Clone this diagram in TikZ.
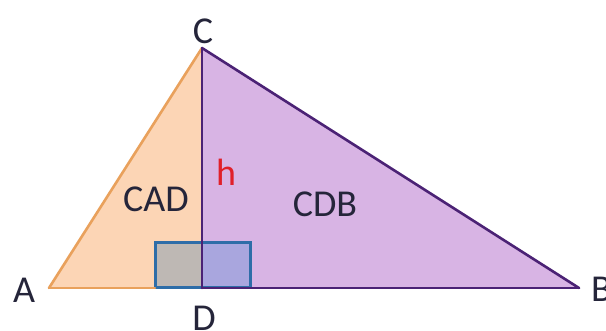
\documentclass[tikz,border=0pt]{standalone}
\usepackage{fontspec}
\setmainfont{Carlito}
\definecolor{orfill}{HTML}{FCD5B5}
\definecolor{orline}{HTML}{E9A15C}
\definecolor{pufill}{HTML}{D8B4E4}
\definecolor{puline}{HTML}{4B2275}
\definecolor{rectline}{HTML}{2E6DA8}
\definecolor{rectleft}{HTML}{BEB8B4}
\definecolor{rectright}{HTML}{A9A6DE}
\definecolor{hred}{HTML}{E0202A}
\definecolor{txt}{HTML}{25253A}
\tikzset{
  lbl/.style={font=\fontsize{38}{40}\selectfont, text=txt, inner sep=0pt},
  edgeor/.style={draw=orline, line width=2.6pt, line cap=round, line join=round},
  edgepu/.style={draw=puline, line width=2.6pt, line cap=round, line join=round},
  rightbox/.style={draw=rectline, line width=3pt},
}
\begin{document}
\begin{tikzpicture}[x=1pt,y=-1pt]
\useasboundingbox (0,0) rectangle (606,331);
\fill[white] (0,0) rectangle (606,331);
\coordinate (A) at (49,288);
\coordinate (D) at (202,288);
\coordinate (C) at (202,48);
\coordinate (B) at (579,288);
\coordinate (R1) at (155,243);
\coordinate (R2) at (250,288);
% fills
\fill[orfill] (A) -- (D) -- (C) -- cycle;
\fill[pufill] (D) -- (B) -- (C) -- cycle;
% right angle marker
\fill[rectleft] (R1) rectangle (D);
\fill[rectright] (202,243) rectangle (R2);
\draw[rightbox] (R1) rectangle (R2);
% edges
\draw[edgeor] (A) -- (C);
\draw[edgeor] (A) -- (155,288);
\draw[edgepu] (C) -- (D);
\draw[edgepu] (D) -- (B);
\draw[edgepu] (C) -- (B);
% labels
\node[lbl] (la) at (24,290) {A};
\node[lbl] (lc) at (203,31) {C};
\node[lbl] (ld) at (204,318) {D};
\node[lbl, anchor=west] (lb) at (591,289) {B};
\node[lbl] (lcad) at (156,199) {CAD};
\node[lbl] (lcdb) at (325,204) {CDB};
\node[lbl, text=hred] (lh) at (226,172) {h};
\end{tikzpicture}
\end{document}
